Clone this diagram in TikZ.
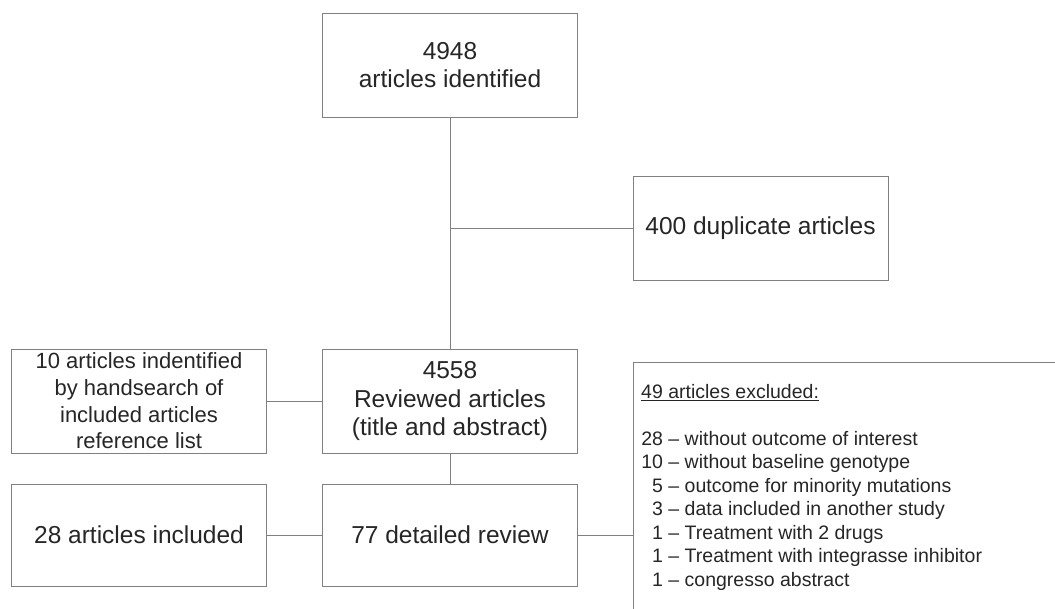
\documentclass[tikz,border=0pt]{standalone}
\usepackage{fontspec}
\setmainfont{Liberation Sans}
\definecolor{linegray}{HTML}{808080}
\definecolor{textgray}{HTML}{262626}
\begin{document}
\begin{tikzpicture}[x=1pt,y=-1pt,
  box/.style={draw=linegray, line width=1pt, inner sep=0pt, align=center,
    minimum width=255pt, minimum height=104pt, text=textgray,
    font=\fontsize{24.5}{28.2}\selectfont},
  smallbox/.style={box, font=\fontsize{22}{26.7}\selectfont},
  conn/.style={draw=linegray, line width=1pt}]
\path[use as bounding box, clip] (0,0) rectangle (1055,608);
\fill[white] (0,0) rectangle (1055,608);

\node[box] (top) at (450,65) {4948\\articles identified};
\node[box] (dup) at (760.5,228) {400 duplicate articles};
\node[smallbox] (hand) at (139,401) {10 articles indentified\\by handsearch of\\included articles\\reference list};
\node[box] (rev) at (450,401) {4558\\Reviewed articles\\(title and abstract)};
\node[box, minimum height=102pt] (incl) at (139,535) {28 articles included};
\node[box, minimum height=102pt] (det) at (450,535) {77 detailed review};
\node[draw=linegray, line width=1pt, anchor=north west, minimum width=440pt, minimum height=270pt, inner sep=0pt] (excl) at (633,362) {};
\node[anchor=north west, inner sep=0pt, align=left, text=textgray,
  font=\fontsize{19.5}{23.5}\selectfont] (excltext) at (641,384)
  {\underline{49 articles excluded:}\\[23.5pt]
   \makebox[1.12em][r]{28} -- without outcome of interest\\
   \makebox[1.12em][r]{10} -- without baseline genotype\\
   \makebox[1.12em][r]{5} -- outcome for minority mutations\\
   \makebox[1.12em][r]{3} -- data included in another study\\
   \makebox[1.12em][r]{1} -- Treatment with 2 drugs\\
   \makebox[1.12em][r]{1} -- Treatment with integrasse inhibitor\\
   \makebox[1.12em][r]{1} -- congresso abstract};

\draw[conn] (top.south) -- (rev.north);
\draw[conn] (top.south |- dup.west) -- (dup.west);
\draw[conn] (hand.east) -- (rev.west);
\draw[conn] (rev.south) -- (det.north);
\draw[conn] (incl.east) -- (det.west);
\draw[conn] (det.east) -- (det.east -| excl.west);
\end{tikzpicture}
\end{document}
